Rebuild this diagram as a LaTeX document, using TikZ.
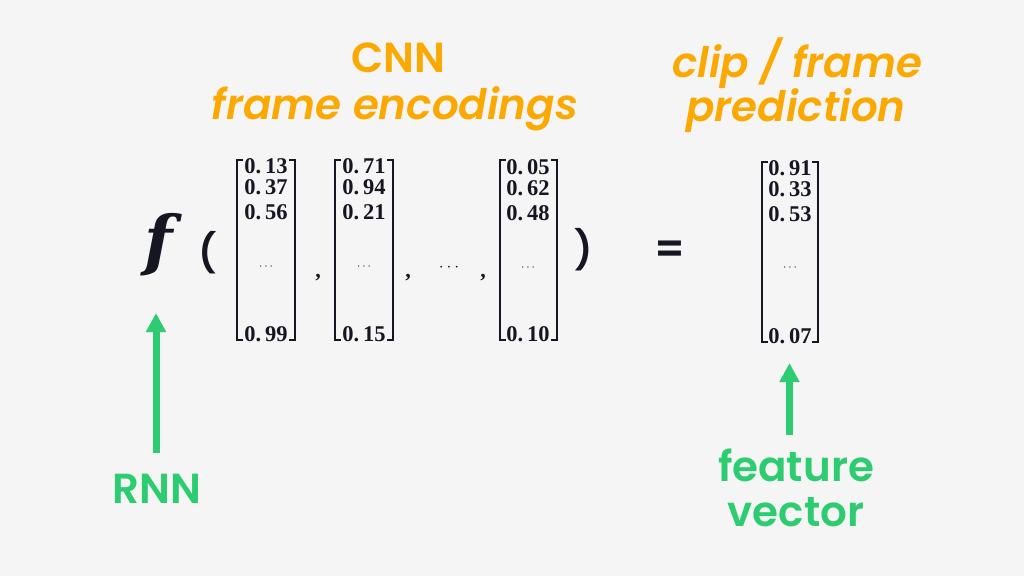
\documentclass[tikz,border=0pt]{standalone}
\usepackage{fontspec}
\setmainfont{Liberation Serif}
\newfontfamily\pop{Poppins}[BoldFont={* SemiBold},BoldItalicFont={* SemiBold Italic}]
\newfontfamily\dvs{DejaVu Serif}
\usetikzlibrary{arrows.meta}
\definecolor{bg}{RGB}{245,245,245}
\definecolor{ink}{RGB}{22,22,34}
\definecolor{orng}{RGB}{251,169,0}
\definecolor{grn}{RGB}{46,204,113}
\newcommand\mybrk[4]{% left, right, top, bottom
  \draw[brk] (#1+6,#3) -- (#1,#3) -- (#1,#4) -- (#1+6,#4);
  \draw[brk] (#2-6,#3) -- (#2,#3) -- (#2,#4) -- (#2-6,#4);}
\begin{document}
\begin{tikzpicture}[x=1pt,y=-1pt,
  ent/.style={font=\bfseries\fontsize{22.5}{22.5}\selectfont,text=ink,inner sep=0pt},
  dts/.style={font=\fontsize{12}{12}\selectfont,text=ink,inner sep=0pt},
  brk/.style={draw=ink,line width=1.5pt},
  head/.style={font=\pop\bfseries\itshape\fontsize{42}{42}\selectfont,text=orng,inner sep=0pt,anchor=base},
  glab/.style={font=\pop\bfseries\fontsize{42}{45}\selectfont,text=grn,align=center,inner sep=0pt,anchor=base},
  garrow/.style={draw=grn,line width=7pt,-{Triangle[width=19pt,length=19pt]}},
  sym/.style={text=ink,inner sep=0pt},
  cma/.style={sym,font=\bfseries\fontsize{22}{22}\selectfont,anchor=base}]
\fill[bg] (0,0) rectangle (1024,576);
% headings
\node[head,font=\pop\bfseries\fontsize{42}{42}\selectfont] (cnn) at (398,72) {CNN};
\node[head] (fenc) at (395,119) {frame encodings};
\node[head] (clip) at (797,77) {clip / frame};
\node[head] (pred) at (796,121) {prediction};
% f ( ... ) =
\node[sym,font=\dvs\bfseries\itshape\fontsize{66}{66}\selectfont] (f) at (159,245) {f};
\node[sym,font=\pop\bfseries\fontsize{38}{38}\selectfont] (lp) at (208,253) {(};
\node[sym,font=\pop\bfseries\fontsize{38}{38}\selectfont] (rp) at (584,250) {)};
\node[sym,font=\pop\bfseries\fontsize{42}{42}\selectfont] (eq) at (670,252) {=};
% matrix 1
\node[ent] (m1a) at (266,166) {0.\,13};
\node[ent] (m1b) at (266,187) {0.\,37};
\node[ent] (m1c) at (266,212) {0.\,56};
\node[dts] (m1d) at (266,267) {$\cdots$};
\node[ent] (m1e) at (266,334) {0.\,99};
\mybrk{237}{295}{160}{340}
\node[cma] (c1) at (318,277) {,};
% matrix 2
\node[ent] (m2a) at (364,166) {0.\,71};
\node[ent] (m2b) at (364,187) {0.\,94};
\node[ent] (m2c) at (364,212) {0.\,21};
\node[dts] (m2d) at (364,267) {$\cdots$};
\node[ent] (m2e) at (364,334) {0.\,15};
\mybrk{335}{393}{160}{340}
\node[cma] (c2) at (408,277) {,};
\node[sym,font=\fontsize{16}{16}\selectfont] (el) at (449,268) {$\cdots$};
\node[cma] (c3) at (483,277) {,};
% matrix 3
\node[ent] (m3a) at (528,167) {0.\,05};
\node[ent] (m3b) at (528,188) {0.\,62};
\node[ent] (m3c) at (528,213) {0.\,48};
\node[dts] (m3d) at (528,268) {$\cdots$};
\node[ent] (m3e) at (528,334) {0.\,10};
\mybrk{500}{557}{160}{340}
% matrix 4
\node[ent] (m4a) at (790,168) {0.\,91};
\node[ent] (m4b) at (790,189) {0.\,33};
\node[ent] (m4c) at (790,214) {0.\,53};
\node[dts] (m4d) at (790,268) {$\cdots$};
\node[ent] (m4e) at (790,336) {0.\,07};
\mybrk{762}{818}{162}{342}
% green labels and arrows
\node[glab] (rnn) at (157,503) {RNN};
\node[glab] (feat) at (796,526) {feature\\vector};
\coordinate (a1b) at (156,453);
\coordinate (a1t) at (156,313);
\coordinate (a2b) at (789.5,435);
\coordinate (a2t) at (789.5,363);
\draw[garrow] (a1b) -- (a1t);
\draw[garrow] (a2b) -- (a2t);
\end{tikzpicture}
\end{document}
